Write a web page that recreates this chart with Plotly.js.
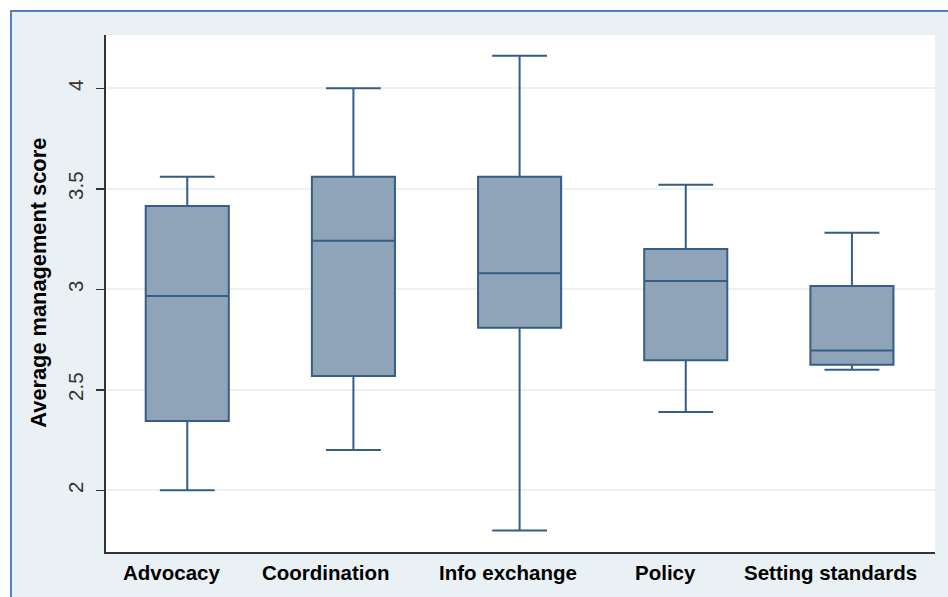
<!DOCTYPE html>
<html>
<head>
<meta charset="utf-8">
<script src="https://cdn.plot.ly/plotly-3.0.1.min.js"></script>
<style>
  html, body { margin: 0; padding: 0; background: #ffffff; }
  #frame {
    position: absolute; left: 10px; top: 10px;
    border-left: 2px solid #4f81bd; border-top: 2px solid #4f81bd;
    background: #eaf1f4;
  }
  #chart { width: 936px; height: 585px; }
</style>
</head>
<body>
<div id="frame"><div id="chart"></div></div>
<script>
// Management function categories
const categories = ["Advocacy", "Coordination", "Info exchange", "Policy", "Setting standards"];

// Box summary statistics (average management score)
const lowerWhisker = [2.00, 2.20, 1.80, 2.39, 2.60];
const quartile1    = [2.345, 2.568, 2.808, 2.647, 2.624];
const medians      = [2.967, 3.241, 3.080, 3.041, 2.696];
const quartile3    = [3.414, 3.560, 3.560, 3.200, 3.016];
const upperWhisker = [3.560, 4.000, 4.162, 3.520, 3.281];

// y-axis ticks
const yTicks = [2, 2.5, 3, 3.5, 4];
const yTickLabels = ["2", "2.5", "3", "3.5", "4"];

// horizontal nudge (px) of each category label below its box
const labelNudge = [-16, -27, -12, -20, -21];

const fontFamily = "Liberation Sans, Arial, sans-serif";

const trace = {
  type: "box",
  x: categories,
  q1: quartile1,
  median: medians,
  q3: quartile3,
  lowerfence: lowerWhisker,
  upperfence: upperWhisker,
  fillcolor: "#8fa4b8",
  line: { color: "#355d85", width: 2 },
  whiskerwidth: 0.66,
  boxpoints: false,
  hoverinfo: "y"
};

// category labels drawn under the axis
const labelAnnotations = categories.map((c, i) => ({
  x: c,
  xref: "x",
  y: 0,
  yref: "paper",
  yanchor: "top",
  yshift: -7,
  xshift: labelNudge[i],
  showarrow: false,
  text: "<b>" + c + "</b>",
  font: { size: 20.5, color: "#000000", family: fontFamily }
}));

// y-axis title
const yTitle = {
  text: "<b>Average management score</b>",
  xref: "paper",
  x: -0.0808,
  xanchor: "center",
  yref: "paper",
  y: 0.521,
  yanchor: "middle",
  textangle: -90,
  showarrow: false,
  font: { size: 21.8, color: "#000000", family: fontFamily }
};

const layout = {
  width: 936,
  height: 585,
  margin: { l: 94, r: 13, t: 23, b: 45 },
  paper_bgcolor: "#eaf1f4",
  plot_bgcolor: "#ffffff",
  showlegend: false,
  boxgap: 0.5,
  boxgroupgap: 0,
  font: { family: fontFamily, color: "#000000" },
  xaxis: {
    type: "category",
    range: [-0.489, 4.5],
    showgrid: false,
    showline: true,
    linecolor: "#333333",
    linewidth: 2,
    ticks: "",
    showticklabels: false,
    zeroline: false,
    fixedrange: true
  },
  yaxis: {
    range: [1.693, 4.265],
    tickvals: yTicks,
    ticktext: yTickLabels,
    tickangle: -90,
    ticks: "outside",
    ticklen: 8,
    tickwidth: 1.5,
    tickcolor: "#333333",
    ticklabelstandoff: 5,
    tickfont: { size: 20.5, color: "#333333", family: fontFamily },
    showline: true,
    linecolor: "#333333",
    linewidth: 2,
    showgrid: true,
    gridcolor: "#eaf2f4",
    gridwidth: 2,
    zeroline: false,
    fixedrange: true
  },
  annotations: labelAnnotations.concat([yTitle])
};

Plotly.newPlot("chart", [trace], layout, { displayModeBar: false, staticPlot: true });
</script>
</body>
</html>
